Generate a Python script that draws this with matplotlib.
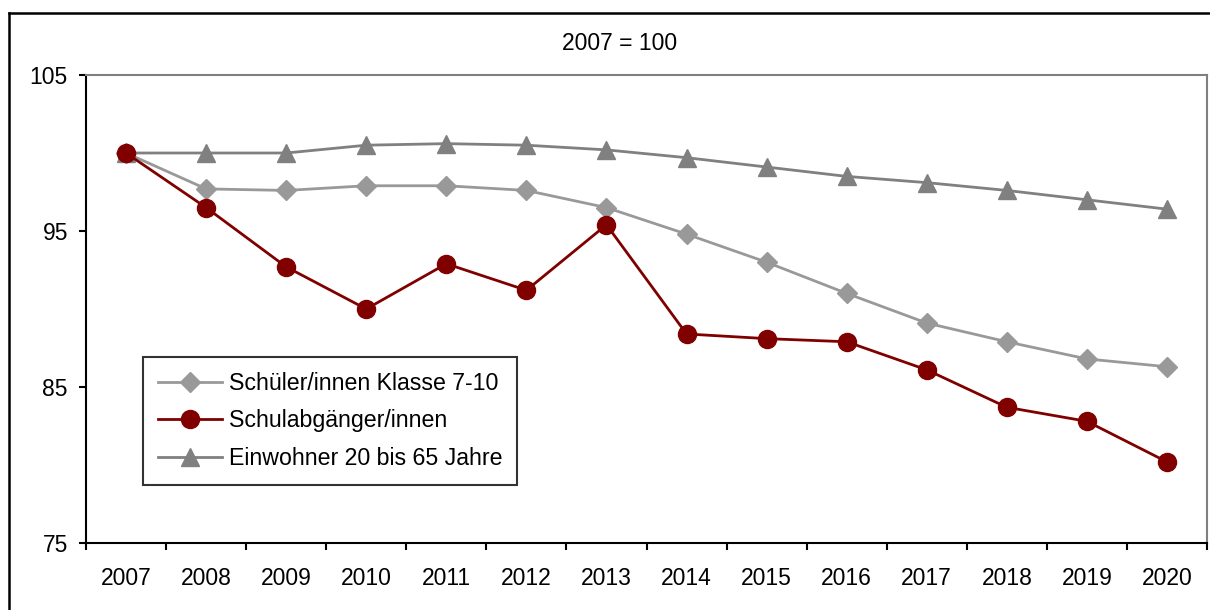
import matplotlib
matplotlib.use("Agg")
import matplotlib.pyplot as plt
from matplotlib.lines import Line2D
import numpy as np

plt.rcParams["font.family"] = ["Liberation Sans", "DejaVu Sans"]

jahre = ["2007", "2008", "2009", "2010", "2011", "2012", "2013",
         "2014", "2015", "2016", "2017", "2018", "2019", "2020"]
schueler = [100.0, 97.7, 97.6, 97.9, 97.9, 97.6, 96.5,
            94.8, 93.0, 91.0, 89.1, 87.9, 86.8, 86.3]
abgaenger = [100.0, 96.5, 92.7, 90.0, 92.9, 91.2, 95.4,
             88.4, 88.1, 87.9, 86.1, 83.7, 82.8, 80.2]
einwohner = [100.0, 100.0, 100.0, 100.5, 100.6, 100.5, 100.2,
             99.7, 99.1, 98.5, 98.1, 97.6, 97.0, 96.4]

fig = plt.figure(figsize=(12.1, 6.1), dpi=100)
ax = fig.add_axes([86 / 1210, 1 - 543 / 610, (1207 - 86) / 1210, (543 - 75) / 610])

x = np.arange(len(jahre))
ax.plot(x, schueler, color="#999999", lw=2, marker="D", ms=10, mec="#999999",
        label="Schüler/innen Klasse 7-10", zorder=3)
ax.plot(x, abgaenger, color="#800000", lw=2, marker="o", ms=13, mec="#800000",
        label="Schulabgänger/innen", zorder=4)
ax.plot(x, einwohner, color="#808080", lw=2, marker="^", ms=13, mec="#808080",
        label="Einwohner 20 bis 65 Jahre", zorder=3)

ax.set_xlim(-0.5, len(jahre) - 0.5)
ax.set_ylim(75, 105)
ax.set_yticks([75, 85, 95, 105])
ax.set_xticks(x)
ax.set_xticklabels(jahre)
ax.set_xticks(np.arange(-0.5, len(jahre), 1), minor=True)
ax.tick_params(axis="x", which="major", length=0, pad=17, labelsize=16.5)
ax.tick_params(axis="x", which="minor", length=5, width=1.5, direction="out")
ax.tick_params(axis="y", length=5, width=1.5, pad=8, labelsize=16.5)

for side in ["left", "bottom"]:
    ax.spines[side].set_color("black")
    ax.spines[side].set_linewidth(1.5)
for side in ["top", "right"]:
    ax.spines[side].set_color("#808080")
    ax.spines[side].set_linewidth(1.5)

leg = ax.legend(loc="upper left", bbox_to_anchor=((143 - 86) / 1121, (543 - 357) / 468),
                borderaxespad=0, fontsize=16.7, frameon=True, fancybox=False,
                borderpad=0.65, labelspacing=0.62, handlelength=2.75, handletextpad=0.3)
leg.get_frame().set_edgecolor("black")
leg.get_frame().set_linewidth(1.5)

fig.text(620 / 1210, 1 - 43 / 610, "2007 = 100", ha="center", va="center", fontsize=16.5)

# Rahmen um das Diagramm
fig.add_artist(Line2D([9 / 1210, 9 / 1210], [0, 1 - 13 / 610], color="black", lw=1.8,
                      transform=fig.transFigure))
fig.add_artist(Line2D([9 / 1210, 1], [1 - 13 / 610, 1 - 13 / 610], color="black", lw=1.8,
                      transform=fig.transFigure))

fig.savefig("out.png", dpi=100)
